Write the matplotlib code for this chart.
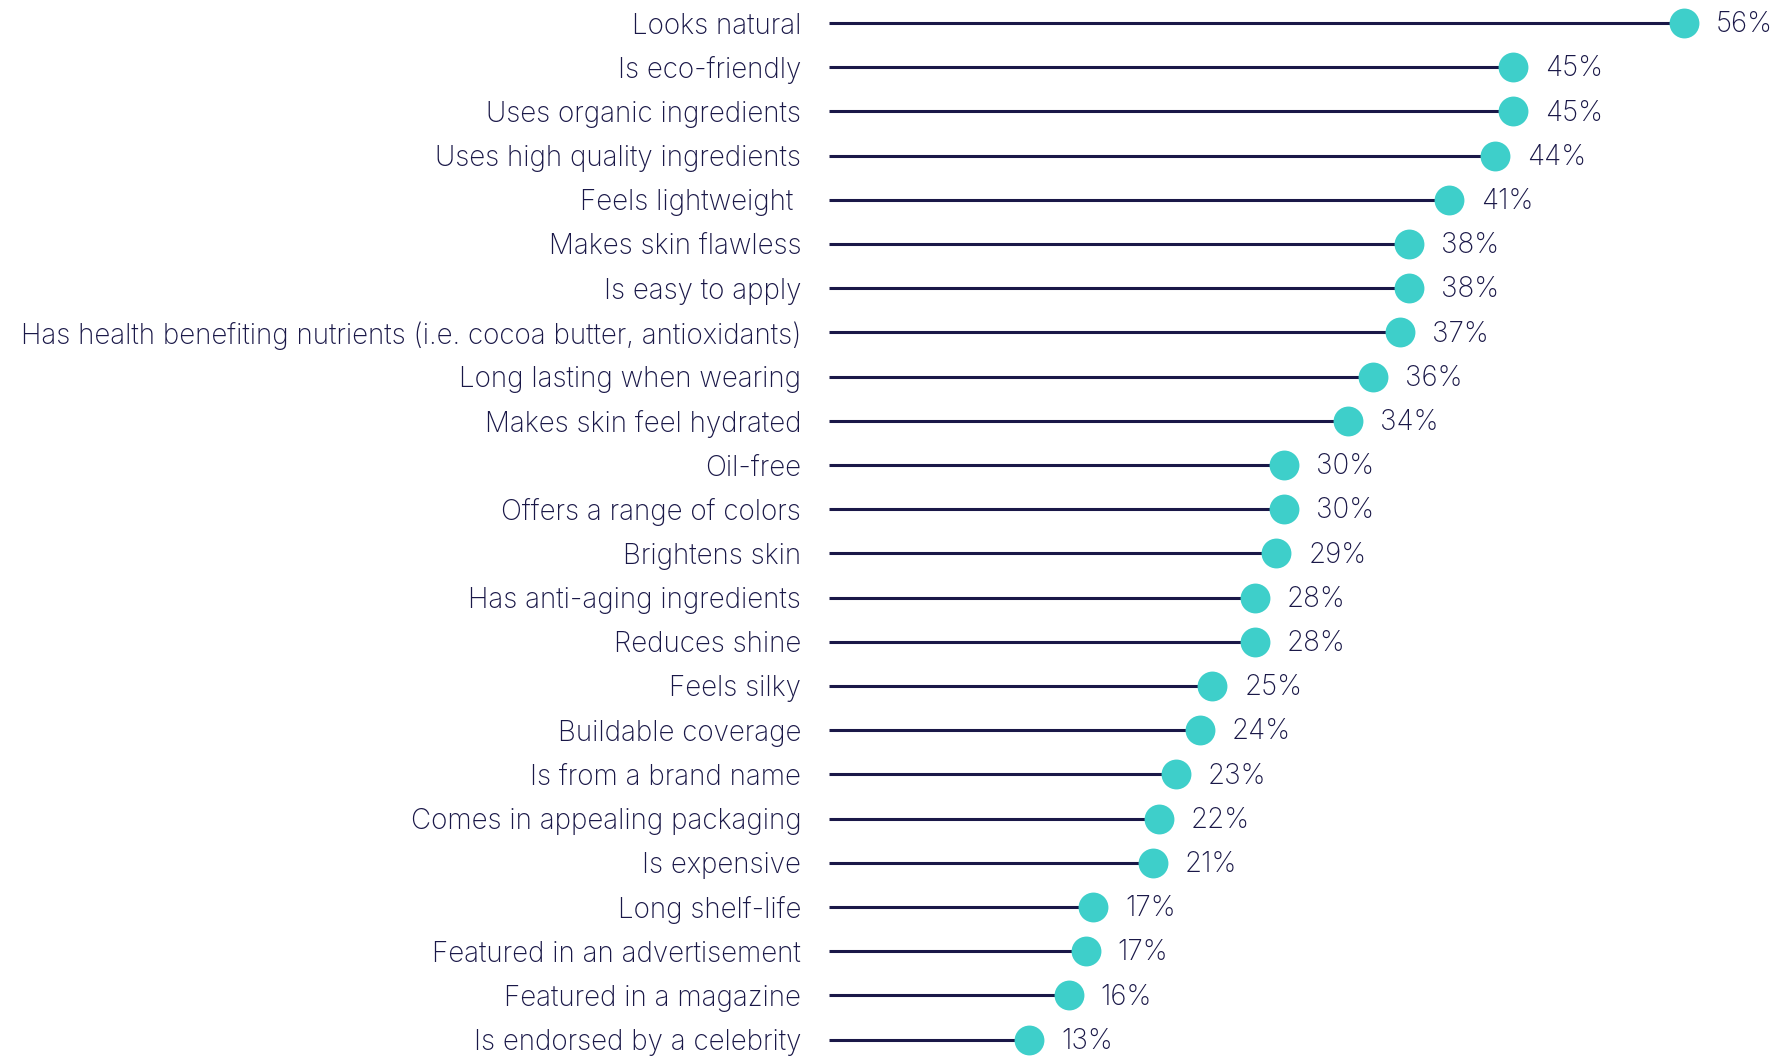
import numpy as np
import matplotlib.pyplot as plt

# values (dot positions), labels shown rounded
categories = ["Looks natural", "Is eco-friendly", "Uses organic ingredients",
              "Uses high quality ingredients", "Feels lightweight ",
              "Makes skin flawless", "Is easy to apply",
              "Has health benefiting nutrients (i.e. cocoa butter, antioxidants)",
              "Long lasting when wearing", "Makes skin feel hydrated",
              "Oil-free", "Offers a range of colors", "Brightens skin",
              "Has anti-aging ingredients", "Reduces shine", "Feels silky",
              "Buildable coverage", "Is from a brand name",
              "Comes in appealing packaging", "Is expensive", "Long shelf-life",
              "Featured in an advertisement", "Featured in a magazine",
              "Is endorsed by a celebrity"]
values = [56.0, 44.8, 44.8, 43.6, 40.6, 38.0, 38.0, 37.4, 35.6, 34.0,
          29.8, 29.8, 29.3, 27.9, 27.9, 25.1, 24.3, 22.7, 21.6, 21.2,
          17.3, 16.8, 15.7, 13.1]

navy = '#1a1848'
teal = '#3ecfca'

plt.rcParams['font.family'] = ['Inter', 'DejaVu Sans']

W, H, dpi = 1780, 1056, 100
fig = plt.figure(figsize=(W/dpi, H/dpi), dpi=dpi)
x0 = 829
scale = 15.27
ax = fig.add_axes([x0/W, 0, 1 - x0/W, 1])

y = np.arange(len(categories))
ax.hlines(y, 0, values, color=navy, lw=2.2, zorder=1)
ax.plot(values, y, 'o', ms=21.5, color=teal, mec='none', zorder=2)
for v, yy in zip(values, y):
    ax.text(v + 32/scale, yy + 0.04, '%d%%' % round(v), va='center',
            ha='left', fontsize=20, color=navy, fontweight='light')

ax.set_xlim(0, (W - x0)/scale)
ax.set_ylim((H - 23)/44.2, -23/44.2)
ax.set_yticks(y)
ax.set_yticklabels(categories, fontsize=20, color=navy, fontweight='light')
ax.tick_params(axis='y', length=0, pad=20)
ax.set_xticks([])
for s in ax.spines.values():
    s.set_visible(False)

fig.savefig('out.png', dpi=dpi)
